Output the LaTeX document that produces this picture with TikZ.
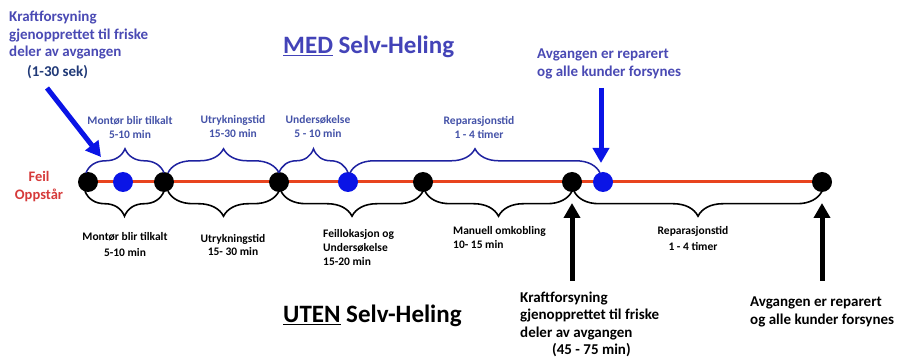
\documentclass[tikz,border=0pt]{standalone}
\usepackage{fontspec}
\setmainfont{Carlito}
\usetikzlibrary{decorations.pathreplacing,arrows.meta}
\definecolor{lineRed}{HTML}{E8441E}
\definecolor{dotBlue}{HTML}{0A14E6}
\definecolor{braceBlue}{HTML}{1E22A0}
\definecolor{labelBlue}{HTML}{4452A8}
\definecolor{titleBlue}{HTML}{4343B8}
\definecolor{noteBlue}{HTML}{4A4AB4}
\definecolor{darkBlue}{HTML}{213A78}
\definecolor{feilRed}{HTML}{D63A3A}
\tikzset{
  dotblack/.style={circle,fill=black,minimum size=20pt,inner sep=0pt},
  dotblue/.style={circle,fill=dotBlue,minimum size=20pt,inner sep=0pt},
  upbrace/.style={draw=braceBlue,line width=1.5pt,decorate,decoration={brace,amplitude=24pt}},
  downbrace/.style={draw=black,line width=1.6pt,decorate,decoration={brace,amplitude=25pt,mirror}},
  smalllbl/.style={font=\bfseries\fontsize{11.5}{14}\selectfont,inner sep=0pt},
  bigarrow/.style={line width=5pt,-{Triangle[width=16pt,length=15pt]}},
  notetxt/.style={font=\bfseries\fontsize{15}{17.5}\selectfont,inner sep=0pt,align=left,anchor=west},
  titletxt/.style={font=\bfseries\fontsize{25}{29}\selectfont,inner sep=0pt,anchor=west}
}
\begin{document}
\begin{tikzpicture}[x=1pt,y=-1pt]
\useasboundingbox (0,0) rectangle (900,358);
\fill[white] (0,0) rectangle (900,358);

% time line
\coordinate (tstart) at (88,182);
\coordinate (tend) at (822,182);
\draw[lineRed,line width=3pt] (tstart) -- (tend);

% events on the line
\node[dotblack] (k1) at (88,182) {};
\node[dotblue]  (b1) at (123,182) {};
\node[dotblack] (k2) at (164,182) {};
\node[dotblack] (k3) at (279,182) {};
\node[dotblue]  (b2) at (348,182) {};
\node[dotblack] (k4) at (423,182) {};
\node[dotblack] (k5) at (572,182) {};
\node[dotblue]  (b3) at (603,182) {};
\node[dotblack] (k6) at (822,182) {};

% braces above (with self-healing)
\draw[upbrace] ([xshift=-2pt,yshift=-1pt]k1.north) -- ([xshift=0pt,yshift=-1pt]k2.north);
\draw[upbrace] ([xshift=4pt,yshift=-1pt]k2.north) -- ([yshift=-1pt]k3.north);
\draw[upbrace] ([yshift=-1pt]k3.north) -- ([xshift=0pt,yshift=-1pt]b2.north);
\draw[upbrace] ([xshift=2pt,yshift=-1pt]b2.north) -- ([xshift=-3pt,yshift=-1pt]b3.north);

% braces below (without self-healing)
\draw[downbrace] ([xshift=-3pt,yshift=1pt]k1.south) -- ([yshift=1pt]k2.south);
\draw[downbrace] ([xshift=4pt,yshift=1pt]k2.south) -- ([yshift=1pt]k3.south);
\draw[downbrace] ([xshift=2pt,yshift=1pt]k3.south) -- ([yshift=1pt]k4.south);
\draw[downbrace] ([xshift=2pt,yshift=1pt]k4.south) -- ([yshift=1pt]k5.south);
\draw[downbrace] ([xshift=2pt,yshift=1pt]k5.south) -- ([yshift=1pt]k6.south);

% labels above
\node[smalllbl,text=labelBlue,align=center] (la1) at (130,127) {Montør blir tilkalt\\5-10 min};
\node[smalllbl,text=labelBlue,align=center] (la2) at (233,126) {Utrykningstid\\15-30 min};
\node[smalllbl,text=labelBlue,align=center] (la3) at (318,127) {Undersøkelse\\5 - 10 min};
\node[smalllbl,text=labelBlue,align=center] (la4) at (479,128) {Reparasjonstid\\1 - 4 timer};

% labels below
\node[smalllbl,align=center,font=\bfseries\fontsize{11.5}{16}\selectfont] (lb1) at (125,244) {Montør blir tilkalt\\5-10 min};
\node[smalllbl,align=center,font=\bfseries\fontsize{11.5}{13.5}\selectfont] (lb2) at (233,245) {Utrykningstid\\15- 30 min};
\node[smalllbl,align=left,anchor=west] (lb3) at (323,248) {Feillokasjon og\\Undersøkelse\\15-20 min};
\node[smalllbl,align=left,anchor=west] (lb4) at (453,238) {Manuell omkobling\\10- 15 min};
\node[smalllbl,align=center,font=\bfseries\fontsize{11.5}{16}\selectfont] (lb5) at (693,238) {Reparasjonstid\\1 - 4 timer};

% fault label
\node[font=\bfseries\fontsize{14.5}{17.5}\selectfont,text=feilRed,align=center,inner sep=0pt] (feil) at (39,186.5) {Feil\\Oppstår};

% titles
\node[titletxt,text=titleBlue] (med) at (283,47) {\underline{MED} Selv-Heling};
\node[titletxt,text=black] (uten) at (283,316) {\underline{UTEN} Selv-Heling};

% notes with self-healing
\node[notetxt,text=noteBlue] (nA) at (9,35.5) {Kraftforsyning\\gjenopprettet til friske\\deler av avgangen};
\node[notetxt,text=darkBlue] (nAt) at (27,72) {(1-30 sek)};
\node[notetxt,text=noteBlue] (nB) at (537,64) {Avgangen er reparert\\og alle kunder forsynes};

% notes without self-healing
\node[notetxt] (nC) at (520,316) {Kraftforsyning\\gjenopprettet til friske\\deler av avgangen};
\node[notetxt] (nCt) at (552,350) {(45 - 75 min)};
\node[notetxt] (nD) at (750,312) {Avgangen er reparert\\og alle kunder forsynes};

% arrows
\coordinate (aA0) at (47,88);
\coordinate (aA1) at (101,157);
\coordinate (aB0) at (601,88);
\coordinate (aB1) at (601,163);
\coordinate (aC0) at (572,281);
\coordinate (aC1) at (572,203);
\coordinate (aD0) at (822,281);
\coordinate (aD1) at (822,203);
\draw[bigarrow,dotBlue] (aA0) -- (aA1);
\draw[bigarrow,dotBlue] (aB0) -- (aB1);
\draw[bigarrow,black] (aC0) -- (aC1);
\draw[bigarrow,black] (aD0) -- (aD1);
\end{tikzpicture}
\end{document}
